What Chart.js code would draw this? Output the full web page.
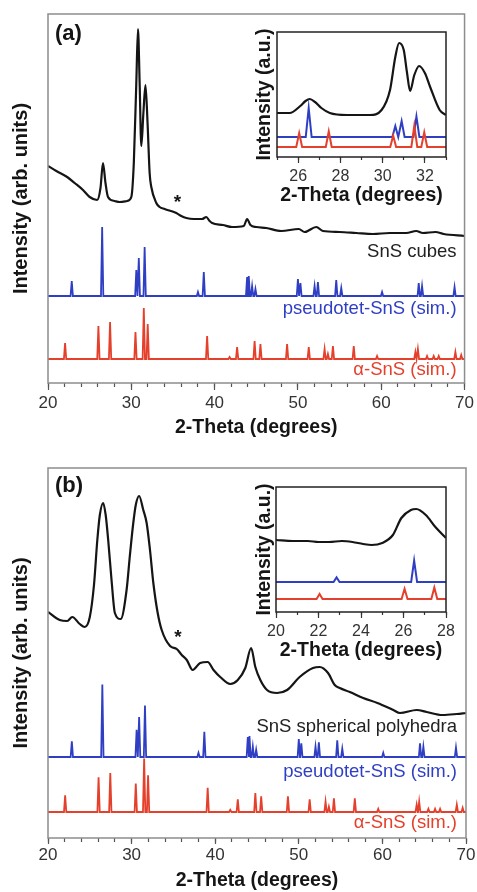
<!DOCTYPE html>
<html>
<head>
<meta charset="utf-8">
<title>SnS XRD patterns</title>
<script src="https://cdn.jsdelivr.net/npm/chart.js@4.4.1/dist/chart.umd.min.js"></script>
<style>
	html, body { margin: 0; padding: 0; background: #fff; }
	#wrap { position: relative; width: 477px; height: 892px; overflow: hidden; }
	.box { position: absolute; }
	.box canvas { display: block; }
</style>
</head>
<body>
<div id="wrap">
	<div class="box" style="left:0;top:0;"><canvas id="main-a" width="477" height="440"></canvas></div>
	<div class="box" style="left:240px;top:20px;"><canvas id="inset-a" width="226" height="195"></canvas></div>
	<div class="box" style="left:0;top:440px;"><canvas id="main-b" width="477" height="452"></canvas></div>
	<div class="box" style="left:240px;top:475px;"><canvas id="inset-b" width="226" height="195"></canvas></div>
</div>
<script>
// measured pattern, SnS cubes (2-theta / intensity)
var cubesTheta = [20.0, 21.0, 22.3, 23.2, 24.2, 25.0, 25.9, 26.3, 26.6, 26.9, 27.2, 28.0, 28.6, 29.5, 30.0, 30.3, 30.6, 30.8, 31.0, 31.2, 31.45, 31.7, 31.95, 32.2, 32.4, 33.0, 33.4, 34.0, 35.4, 36.0, 36.6, 37.5, 38.5, 39.0, 39.4, 39.7, 41.0, 42.1, 43.5, 43.9, 44.3, 45.0, 46.2, 48.0, 50.1, 50.8, 52.2, 53.0, 55.0, 57.0, 59.0, 61.0, 63.0, 64.2, 65.0, 66.5, 67.5, 70.0];
var cubesInt   = [217, 212, 206, 200, 193, 186, 183, 195, 220, 200, 186, 182, 181, 182, 186, 220, 300, 354, 300, 237, 270, 298, 260, 210, 196, 180, 176, 174, 170, 167, 165, 164, 164, 166, 162, 160, 158, 156, 157, 164, 158, 156, 155, 152, 154, 151, 156, 152, 151, 150, 149, 150, 150, 152, 150, 151, 149, 147];

// SnS cubes, close-up 25-33 deg
var cubesZoomTheta = [25.0, 25.6, 26.1, 26.35, 26.55, 26.8, 27.1, 27.5, 28.3, 29.4, 29.95, 30.35, 30.6, 30.78, 31.0, 31.15, 31.3, 31.5, 31.73, 32.0, 32.25, 32.7, 33.0];
var cubesZoomInt   = [44, 44, 51, 56, 58, 55, 49, 44, 42, 42, 47, 67, 100, 114, 107, 85, 66, 82, 91, 84, 70, 47, 42];

// measured pattern, SnS spherical polyhedra
var polyTheta = [20.0, 21.4, 22.3, 22.9, 23.8, 24.4, 25.0, 25.5, 25.9, 26.2, 26.6, 26.9, 27.2, 27.6, 28.0, 28.7, 29.4, 29.8, 30.2, 30.5, 30.9, 31.4, 31.8, 32.2, 32.6, 33.1, 33.6, 34.6, 35.4, 36.0, 36.6, 37.3, 38.2, 39.1, 39.8, 40.6, 41.8, 42.7, 43.6, 44.3, 44.8, 45.4, 46.2, 47.4, 48.6, 50.1, 51.7, 52.5, 53.5, 54.3, 54.9, 56.1, 57.7, 59.4, 61.3, 62.1, 64.1, 65.3, 67.2, 68.9, 70.0];
var polyInt   = [228, 220, 219, 223, 216, 213, 223, 255, 300, 325, 337, 325, 300, 260, 227, 221, 250, 285, 317, 335, 344, 330, 317, 290, 257, 228, 210, 194, 191, 185, 180, 170, 177, 178, 170, 163, 156, 160, 172, 192, 173, 160, 150, 147, 150, 163, 172, 173, 167, 155, 152, 148, 142, 137, 130, 127, 130, 128, 125, 126, 127];

// SnS spherical polyhedra, close-up 20-28 deg
var polyZoomTheta = [20.0, 20.8, 21.5, 22.0, 22.5, 23.1, 23.6, 24.1, 24.5, 25.0, 25.5, 25.9, 26.35, 26.6, 27.05, 27.5, 28.0];
var polyZoomInt   = [72, 71, 71, 70, 70, 71, 70, 68, 67, 69, 77, 94, 102, 103, 97, 85, 74];

// simulated reflections, pseudotetragonal SnS
var pseudotetPos = [22.85, 26.5, 30.6, 30.9, 31.6, 38.0, 38.7, 43.9, 44.1, 44.5, 44.9, 50.0, 50.3, 52.0, 52.4, 54.6, 55.2, 60.1, 64.5, 64.9, 68.8];
var pseudotetInt = [15, 69, 26, 38, 49, 4, 24, 19, 20, 10, 7, 17, 13, 10, 14, 16, 8, 4, 13, 10, 9];

// simulated reflections, alpha-SnS
var alphaPos = [22.05, 26.05, 27.45, 30.5, 31.5, 31.97, 39.1, 41.8, 42.7, 44.8, 45.5, 48.7, 51.3, 53.2, 53.6, 54.2, 56.7, 59.5, 64.1, 64.4, 65.5, 66.3, 66.9, 68.9, 69.6];
var alphaInt = [16, 33, 37, 27, 51, 35, 23, 2, 12, 18, 15, 15, 12, 10, 5, 13, 13, 3, 7, 10, 3, 3, 3, 7, 4];

var mainTicks = [20, 30, 40, 50, 60, 70];

( function () {
	'use strict';

	var FONT  = "'Liberation Sans', Arial, Helvetica, sans-serif";
	var BLACK = '#151515';
	var BLUE  = '#2f3fc4';
	var RED   = '#e5402c';
	var HALF  = 0.14; // half base width of a simulated reflection, degrees

	function xy( xs, ys ) {
		return xs.map( function ( x, i ) { return { x: x, y: ys[i] }; } );
	}

	// stick pattern sitting on an offset baseline
	function sticks( pos, inten, scale, base, xmin, xmax ) {
		var pts = [ { x: xmin, y: base } ];
		for ( var i = 0; i < pos.length; i++ ) {
			if ( pos[i] < xmin || pos[i] > xmax ) {
				continue;
			}
			pts.push( { x: pos[i] - HALF, y: base } );
			pts.push( { x: pos[i], y: base + inten[i] * scale } );
			pts.push( { x: pos[i] + HALF, y: base } );
		}
		pts.push( { x: xmax, y: base } );
		return pts;
	}

	function curve( data, color, width ) {
		return {
			data: data, borderColor: color, borderWidth: width,
			pointRadius: 0, cubicInterpolationMode: 'monotone', fill: false,
		};
	}

	function stickSet( data, color, width ) {
		return {
			data: data, borderColor: color, borderWidth: width,
			pointRadius: 0, tension: 0, fill: false,
		};
	}

	// frame round the plot area plus the text notes
	var panelDecor = {
		id: 'panelDecor',
		afterDatasetsDraw: function ( chart, args, opts ) {
			var ctx = chart.ctx;
			var a = chart.chartArea;
			ctx.save();
			ctx.strokeStyle = opts.frameColor;
			ctx.lineWidth = opts.frameWidth;
			ctx.strokeRect( a.left, a.top, a.right - a.left, a.bottom - a.top );
			( opts.notes || [] ).forEach( function ( n ) {
				var x = n.xv !== undefined ? chart.scales.x.getPixelForValue( n.xv )
					: ( n.inRight !== undefined ? a.right - n.inRight : a.left + n.inLeft );
				var y = n.yv !== undefined ? chart.scales.y.getPixelForValue( n.yv ) : a.top + n.inTop;
				ctx.font = ( n.bold ? 'bold ' : '' ) + n.size + 'px ' + FONT;
				ctx.fillStyle = n.color || BLACK;
				ctx.textAlign = n.align || 'center';
				ctx.textBaseline = 'middle';
				ctx.fillText( n.text, x, y );
			} );
			ctx.restore();
		},
	};

	function mainOptions( p ) {
		return {
			responsive: false, animation: false, devicePixelRatio: 1,
			layout: { padding: { top: p.padTop, right: 11, left: 0, bottom: 0 } },
			plugins: {
				legend: { display: false }, tooltip: { enabled: false },
				panelDecor: { frameColor: '#8d8d8d', frameWidth: 1.5, notes: p.notes },
			},
			scales: {
				xMinor: {
					type: 'linear', position: 'bottom', min: 20, max: 70, weight: 0,
					afterFit: function ( s ) { s.height = 0; },
					ticks: { display: false, stepSize: 2 },
					grid: { drawOnChartArea: false, tickLength: 4, tickColor: '#555', tickWidth: 1.2 },
					border: { display: false },
				},
				x: {
					type: 'linear', position: 'bottom', min: 20, max: 70, weight: 5,
					afterFit: function ( s ) { s.height = p.xHeight; },
					afterBuildTicks: function ( s ) { s.ticks = mainTicks.map( function ( v ) { return { value: v }; } ); },
					ticks: { padding: p.tickPad, color: '#333', maxRotation: 0, font: { family: FONT, size: 17 } },
					grid: { drawOnChartArea: false, tickLength: p.tickLen, tickColor: '#555', tickWidth: 1.2 },
					border: { display: false },
					title: {
						display: true, text: '2-Theta (degrees)', color: BLACK,
						font: { family: FONT, size: 19.5, weight: 'bold' }, padding: { top: 0, bottom: p.titlePad },
					},
				},
				y: {
					min: p.yMin, max: p.yMax,
					afterFit: function ( s ) { s.width = 48; },
					ticks: { display: false }, grid: { display: false }, border: { display: false },
					title: {
						display: true, text: 'Intensity (arb. units)', color: BLACK,
						font: { family: FONT, size: 20, weight: 'bold' }, padding: { top: 9, bottom: 0 },
					},
				},
			},
		};
	}

	function insetOptions( p ) {
		return {
			responsive: false, animation: false, devicePixelRatio: 1,
			layout: { padding: { top: 12, right: 20, left: 0, bottom: 0 } },
			plugins: {
				legend: { display: false }, tooltip: { enabled: false },
				panelDecor: { frameColor: '#222', frameWidth: 1.5 },
			},
			scales: {
				xMinor: {
					type: 'linear', position: 'bottom', min: p.xMin, max: p.xMax, weight: 0,
					afterFit: function ( s ) { s.height = 0; },
					ticks: { display: false, stepSize: 1 },
					grid: { drawOnChartArea: false, tickLength: 3, tickColor: '#333', tickWidth: 1.2 },
					border: { display: false },
				},
				x: {
					type: 'linear', position: 'bottom', min: p.xMin, max: p.xMax, weight: 5,
					afterFit: function ( s ) { s.height = 58; },
					afterBuildTicks: function ( s ) { s.ticks = p.ticks.map( function ( v ) { return { value: v }; } ); },
					ticks: { padding: 4, color: '#333', maxRotation: 0, font: { family: FONT, size: 16 } },
					grid: { drawOnChartArea: false, tickLength: 6, tickColor: '#333', tickWidth: 1.2 },
					border: { display: false },
					title: {
						display: true, text: '2-Theta (degrees)', color: BLACK,
						font: { family: FONT, size: 19.5, weight: 'bold' }, padding: { top: 0, bottom: 8 },
					},
				},
				y: {
					min: 0, max: 125,
					afterFit: function ( s ) { s.width = p.yWidth; },
					ticks: { display: false }, grid: { display: false }, border: { display: false },
					title: {
						display: true, text: 'Intensity (a.u.)', color: BLACK,
						font: { family: FONT, size: 19.5, weight: 'bold' }, padding: { top: 13, bottom: 0 },
					},
				},
			},
		};
	}

	function init() {
		if ( typeof Chart === 'undefined' ) {
			return;
		}
		Chart.register( panelDecor );

		// (a) SnS cubes
		new Chart( document.getElementById( 'main-a' ), {
			type: 'line',
			data: {
				datasets: [
					stickSet( sticks( alphaPos, alphaInt, 1, 24, 20, 70 ), RED, 1.8 ),
					stickSet( sticks( pseudotetPos, pseudotetInt, 1, 87, 20, 70 ), BLUE, 1.8 ),
					curve( xy( cubesTheta, cubesInt ), BLACK, 2.2 ),
				],
			},
			options: mainOptions( {
				padTop: 14, xHeight: 57, tickLen: 7, tickPad: 3, titlePad: 1, yMin: 0, yMax: 369,
				notes: [
					{ text: '(a)', inLeft: 7, inTop: 20, align: 'left', bold: true, size: 22 },
					{ text: '*', xv: 35.55, yv: 180, bold: true, size: 19 },
					{ text: 'SnS cubes', inRight: 8, yv: 131, align: 'right', size: 18.5, color: '#222' },
					{ text: 'pseudotet-SnS (sim.)', inRight: 8, yv: 74, align: 'right', size: 18.5, color: BLUE },
					{ text: 'α-SnS (sim.)', inRight: 8, yv: 13, align: 'right', size: 18.5, color: RED },
				],
			} ),
		} );

		new Chart( document.getElementById( 'inset-a' ), {
			type: 'line',
			data: {
				datasets: [
					stickSet( sticks( alphaPos, alphaInt, 0.42, 10, 25, 33 ), RED, 2 ),
					stickSet( sticks( pseudotetPos, pseudotetInt, 0.42, 20, 25, 33 ), BLUE, 2 ),
					curve( xy( cubesZoomTheta, cubesZoomInt ), BLACK, 2.2 ),
				],
			},
			options: insetOptions( { xMin: 25, xMax: 33, ticks: [ 26, 28, 30, 32 ], yWidth: 37 } ),
		} );

		// (b) SnS spherical polyhedra
		new Chart( document.getElementById( 'main-b' ), {
			type: 'line',
			data: {
				datasets: [
					stickSet( sticks( alphaPos, alphaInt, 1.05, 28, 20, 70 ), RED, 1.8 ),
					stickSet( sticks( pseudotetPos, pseudotetInt, 1.05, 83, 20, 70 ), BLUE, 1.8 ),
					curve( xy( polyTheta, polyInt ), BLACK, 2.2 ),
				],
			},
			options: mainOptions( {
				padTop: 28, xHeight: 54, tickLen: 6, tickPad: 1, titlePad: 0, yMin: 2, yMax: 372,
				notes: [
					{ text: '(b)', inLeft: 7, inTop: 18, align: 'left', bold: true, size: 22 },
					{ text: '*', xv: 35.55, yv: 202, bold: true, size: 19 },
					{ text: 'SnS spherical polyhedra', inRight: 9, yv: 113, align: 'right', size: 18.5, color: '#222' },
					{ text: 'pseudotet-SnS (sim.)', inRight: 9, yv: 68, align: 'right', size: 18.5, color: BLUE },
					{ text: 'α-SnS (sim.)', inRight: 9, yv: 17, align: 'right', size: 18.5, color: RED },
				],
			} ),
		} );

		new Chart( document.getElementById( 'inset-b' ), {
			type: 'line',
			data: {
				datasets: [
					stickSet( sticks( alphaPos, alphaInt, 0.31, 13, 20, 28 ), RED, 2 ),
					stickSet( sticks( pseudotetPos, pseudotetInt, 0.31, 30, 20, 28 ), BLUE, 2 ),
					curve( xy( polyZoomTheta, polyZoomInt ), BLACK, 2.2 ),
				],
			},
			options: insetOptions( { xMin: 20, xMax: 28, ticks: [ 20, 22, 24, 26, 28 ], yWidth: 36 } ),
		} );
	}

	if ( document.readyState === 'loading' ) {
		document.addEventListener( 'DOMContentLoaded', init );
	} else {
		init();
	}
} )();
</script>
</body>
</html>
